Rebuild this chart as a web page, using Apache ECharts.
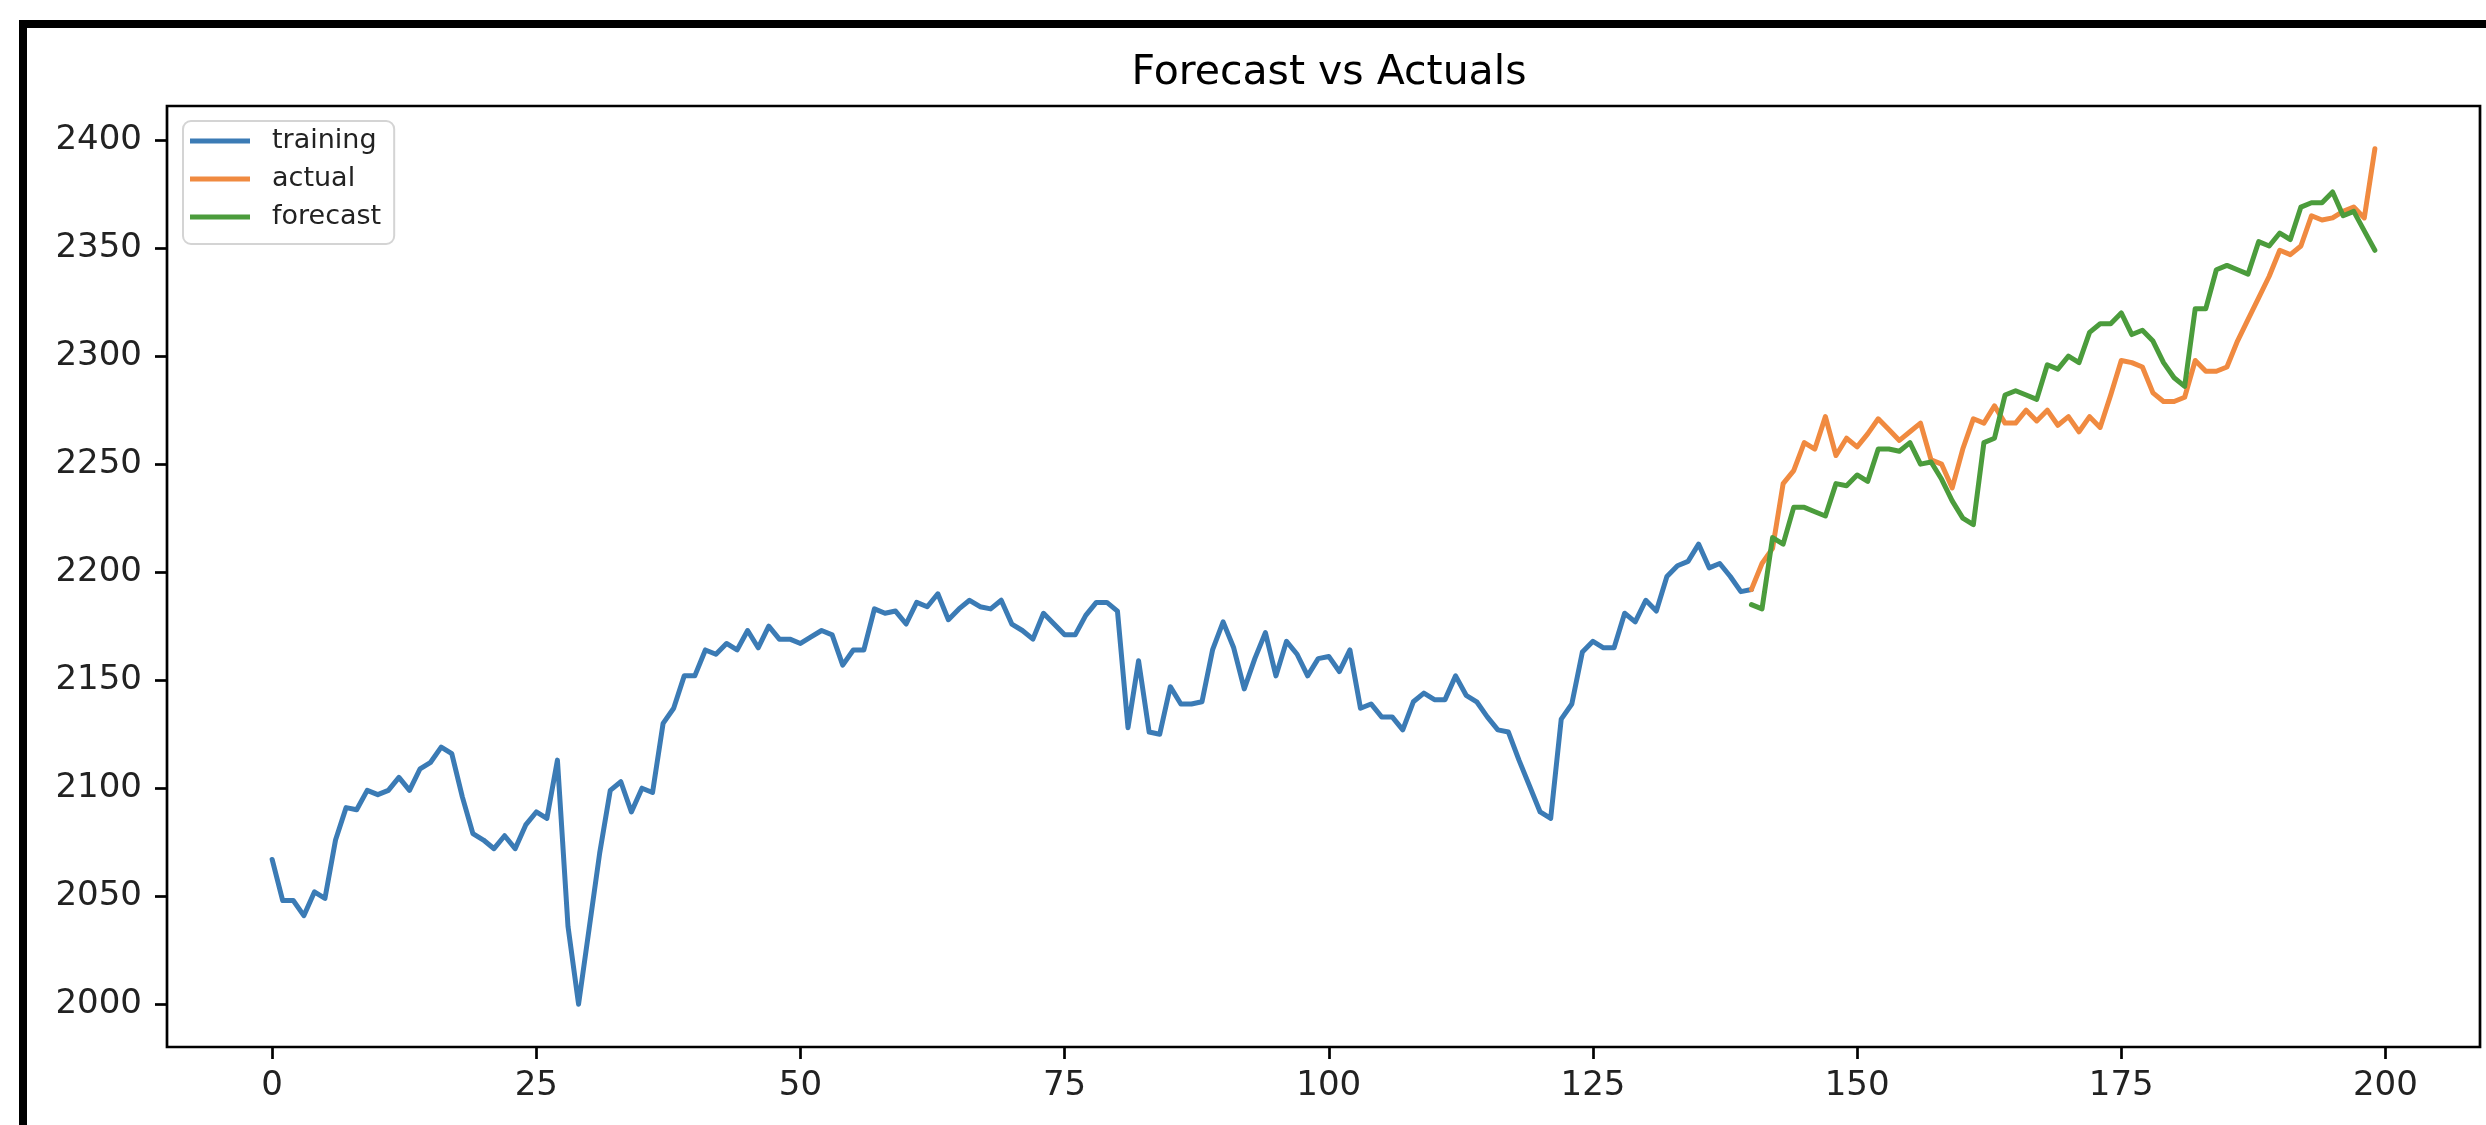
<!DOCTYPE html>
<html>
<head>
<meta charset="utf-8">
<title>Forecast vs Actuals</title>
<script src="https://cdn.jsdelivr.net/npm/echarts@6/dist/echarts.min.js"></script>
<style>
  html, body { margin: 0; padding: 0; background: #fff; }
  #chart { position: absolute; left: 0; top: 0; width: 2486px; height: 1125px; }
  /* black frame of the screenshot, top and left only */
  .frame {
    position: absolute; left: 19px; top: 20px; right: 0; bottom: 0;
    border-top: 8px solid #000; border-left: 8px solid #000;
    pointer-events: none;
  }
</style>
</head>
<body>
<div id="chart"></div>
<div class="frame"></div>
<script>
// x positions: training runs 0..140, actual / forecast run 140..199
const trainingStart = 0;
const testStart = 140;

const training = [
  2067, 2048, 2048, 2041, 2052, 2049, 2076, 2091, 2090, 2099,
  2097, 2099, 2105, 2099, 2109, 2112, 2119, 2116, 2096, 2079,
  2076, 2072, 2078, 2072, 2083, 2089, 2086, 2113, 2036, 2000,
  2035, 2070, 2099, 2103, 2089, 2100, 2098, 2130, 2137, 2152,
  2152, 2164, 2162, 2167, 2164, 2173, 2165, 2175, 2169, 2169,
  2167, 2170, 2173, 2171, 2157, 2164, 2164, 2183, 2181, 2182,
  2176, 2186, 2184, 2190, 2178, 2183, 2187, 2184, 2183, 2187,
  2176, 2173, 2169, 2181, 2176, 2171, 2171, 2180, 2186, 2186,
  2182, 2128, 2159, 2126, 2125, 2147, 2139, 2139, 2140, 2164,
  2177, 2165, 2146, 2160, 2172, 2152, 2168, 2162, 2152, 2160,
  2161, 2154, 2164, 2137, 2139, 2133, 2133, 2127, 2140, 2144,
  2141, 2141, 2152, 2143, 2140, 2133, 2127, 2126, 2113, 2101,
  2089, 2086, 2132, 2139, 2163, 2168, 2165, 2165, 2181, 2177,
  2187, 2182, 2198, 2203, 2205, 2213, 2202, 2204, 2198, 2191,
  2192
];

const actual = [
  2192, 2204, 2211, 2241, 2247, 2260, 2257, 2272, 2254, 2262,
  2258, 2264, 2271, 2266, 2261, 2265, 2269, 2252, 2250, 2239,
  2257, 2271, 2269, 2277, 2269, 2269, 2275, 2270, 2275, 2268,
  2272, 2265, 2272, 2267, 2282, 2298, 2297, 2295, 2283, 2279,
  2279, 2281, 2298, 2293, 2293, 2295, 2307, 2317, 2327, 2337,
  2349, 2347, 2351, 2365, 2363, 2364, 2367, 2369, 2364, 2396
];

const forecast = [
  2185, 2183, 2216, 2213, 2230, 2230, 2228, 2226, 2241, 2240,
  2245, 2242, 2257, 2257, 2256, 2260, 2250, 2251, 2243, 2233,
  2225, 2222, 2260, 2262, 2282, 2284, 2282, 2280, 2296, 2294,
  2300, 2297, 2311, 2315, 2315, 2320, 2310, 2312, 2307, 2297,
  2290, 2286, 2322, 2322, 2340, 2342, 2340, 2338, 2353, 2351,
  2357, 2354, 2369, 2371, 2371, 2376, 2365, 2367, 2358, 2349
];

const xTicks = [0, 25, 50, 75, 100, 125, 150, 175, 200];
const yTicks = [2000, 2050, 2100, 2150, 2200, 2250, 2300, 2350, 2400];

const colors = { training: '#3b7bb5', actual: '#f08a40', forecast: '#4b9c3c' };
const font = 'DejaVu Sans';

// [x, y] pairs
function toPairs(values, start) {
  return values.map((v, i) => [start + i, v]);
}

function lineSeries(name, values, start) {
  return {
    name: name,
    type: 'line',
    data: toPairs(values, start),
    showSymbol: false,
    symbol: 'none',
    lineStyle: { width: 5, color: colors[name], join: 'round', cap: 'round' },
    itemStyle: { color: colors[name] },
    emphasis: { disabled: true }
  };
}

// plain numbers, no thousands separator
const plain = v => String(v);

const chart = echarts.init(document.getElementById('chart'));
chart.setOption({
  animation: false,
  backgroundColor: 'transparent',
  title: {
    text: 'Forecast vs Actuals',
    left: 1324,
    textAlign: 'center',
    top: 48,
    textStyle: { fontFamily: font, fontSize: 41, fontWeight: 'normal', color: '#000' }
  },
  legend: {
    orient: 'vertical',
    left: 183,
    top: 121,
    icon: 'rect',
    itemWidth: 60,
    itemHeight: 5,
    itemGap: 8,
    padding: [5, 13, 12, 7],
    backgroundColor: 'rgba(255,255,255,0.8)',
    borderColor: '#d4d4d4',
    borderWidth: 2,
    borderRadius: 8,
    textStyle: {
      fontFamily: font, fontSize: 27, color: '#222',
      lineHeight: 30, padding: [0, 0, 0, 17]
    },
    data: ['training', 'actual', 'forecast']
  },
  grid: {
    left: 167, top: 106, right: 6, bottom: 78,
    show: true, borderColor: '#000', borderWidth: 2.7,
    containLabel: false
  },
  xAxis: {
    type: 'value',
    min: -9.95,
    max: 208.95,
    axisLine: { show: false, onZero: false },
    splitLine: { show: false },
    axisTick: {
      show: true, length: 12, inside: false, customValues: xTicks,
      lineStyle: { color: '#000', width: 2.7 }
    },
    axisLabel: {
      customValues: xTicks, margin: 22, formatter: plain,
      fontFamily: font, fontSize: 34, color: '#222'
    }
  },
  yAxis: {
    type: 'value',
    min: 1980.2,
    max: 2415.8,
    axisLine: { show: false, onZero: false },
    splitLine: { show: false },
    axisTick: {
      show: true, length: 12, inside: false, customValues: yTicks,
      lineStyle: { color: '#000', width: 2.7 }
    },
    axisLabel: {
      customValues: yTicks, margin: 25, formatter: plain,
      fontFamily: font, fontSize: 34, color: '#222'
    }
  },
  series: [
    lineSeries('training', training, trainingStart),
    lineSeries('actual', actual, testStart),
    lineSeries('forecast', forecast, testStart)
  ]
});
</script>
</body>
</html>
